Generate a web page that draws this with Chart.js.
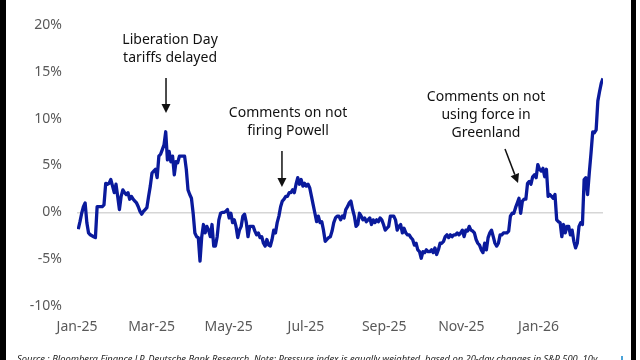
<!DOCTYPE html>
<html>
<head>
<meta charset="utf-8">
<script src="https://cdn.jsdelivr.net/npm/chart.js@4.4.1/dist/chart.umd.min.js"></script>
<style>
  html, body { margin: 0; padding: 0; background: #fff; }
  #wrap { position: relative; width: 640px; height: 360px; overflow: hidden; background: #fff; }
  canvas { position: absolute; left: 0; top: 0; }
  #lb { position: absolute; left: 0; top: 0; width: 6px; height: 360px; background: #000; }
  #rb { position: absolute; left: 631px; top: 0; width: 5px; height: 360px; background: #000; }
  #src { position: absolute; left: 17px; top: 352px; white-space: nowrap; font-family: "Noto Sans", sans-serif; font-style: italic; font-size: 10px; color: #222; }
  #mk { position: absolute; left: 621px; top: 356px; width: 2px; height: 6px; background: #4aa3d8; }
</style>
</head>
<body>
<div id="wrap">
  <canvas id="c" width="640" height="360"></canvas>
  <div id="lb"></div>
  <div id="rb"></div>
  <div id="src">Source : Bloomberg Finance LP, Deutsche Bank Research. Note: Pressure index is equally weighted, based on 20-day changes in S&amp;P 500, 10y</div>
  <div id="mk"></div>
</div>
<script>
// ---- data (percent), sampled evenly from 2 Jan 2025 to ~20 Feb 2026 ----
const startDay = 1;     // days since 1 Jan 2025
const endDay = 416;
const pressureIndex = [
  -1.8,-1.0,-0.1,0.6,1.0,-1.1,-2.2,-2.4,-2.5,-2.6,-2.7,0.6,0.6,0.6,0.6,0.8,3.1,3.0,3.1,3.5,
  2.8,2.1,3.0,1.7,0.3,1.7,2.4,2.1,1.9,2.1,1.4,1.7,1.4,1.2,1.0,0.6,0.1,-0.2,0.1,0.3,
  0.5,1.7,2.8,4.2,4.4,4.6,3.7,6.0,6.2,6.7,7.2,8.6,5.6,6.5,5.4,6.0,4.0,5.4,5.3,6.0,
  6.0,6.0,6.0,4.6,2.4,1.9,1.5,-0.1,-2.2,-2.6,-2.7,-5.2,-2.6,-1.3,
  -2.2,-1.5,-1.9,-2.6,-1.3,-3.6,-3.6,-2.6,-0.8,-0.1,0.0,0.0,0.1,0.3,-0.6,-0.1,-1.1,-0.8,-1.5,-2.7,
  -1.9,-1.5,-0.4,-0.2,-1.1,-2.6,-1.5,-1.5,-1.5,-2.0,-2.4,-2.2,-2.7,-2.6,-3.3,-3.6,-2.9,-3.5,-3.6,-2.9,
  -1.9,-2.2,-1.1,-0.4,0.6,1.2,1.4,1.7,1.7,2.1,2.1,2.4,2.1,3.0,3.7,3.0,3.5,2.8,3.1,2.8,
  3.0,2.6,1.7,0.8,-0.1,-1.0,-0.4,-1.1,-1.0,-1.9,-3.1,-2.9,-2.7,-2.6,-2.0,-1.1,-0.6,-0.4,-0.4,-0.8,
  -0.4,-0.6,0.3,0.6,1.0,1.2,0.3,-0.4,-1.5,-1.3,-0.1,-0.4,-0.8,-0.6,-1.0,-0.8,-0.6,-1.3,-0.8,-1.1,
  -0.8,-1.0,-0.6,-0.8,-1.3,-1.9,-1.7,-1.5,-0.4,-0.4,-0.4,-0.8,-1.9,-1.5,-1.3,-2.2,-1.7,-2.2,-2.4,-2.4,
  -2.7,-2.9,-3.5,-3.3,-4.0,-4.2,-4.9,-4.2,-4.3,-4.0,-4.2,-4.2,-4.0,-4.3,-3.8,-4.5,-4.0,-3.3,-3.3,-3.1,
  -2.6,-2.4,-2.7,-2.4,-2.6,-2.4,-2.4,-2.2,-2.4,-2.2,-1.9,-2.6,-1.9,-2.0,-1.5,-1.9,-2.0,-2.2,-2.9,-3.3,
  -3.5,-4.0,-4.3,-3.3,-4.0,-2.7,-2.2,-1.9,-2.6,-3.3,-3.6,-3.3,-2.4,-2.4,-2.2,-2.2,-2.2,-2.0,-0.4,-0.1,
  -0.1,0.5,1.0,1.5,-0.1,1.2,1.4,1.4,3.1,3.3,3.0,3.8,4.0,3.7,5.1,4.6,4.4,4.7,3.8,4.6,
  1.7,1.9,1.7,1.5,1.9,-0.8,-1.0,-1.1,-2.6,-1.3,-2.2,-1.5,-1.5,-2.4,-1.9,-3.1,-3.8,-3.3,-1.5,-1.1,
  -1.3,3.5,3.7,1.9,4.2,6.3,8.6,8.5,8.8,11.9,12.9,13.8,14.3
];
const tickDays = [0, 59, 120, 181, 243, 304, 365];
const tickLabels = ['Jan-25', 'Mar-25', 'May-25', 'Jul-25', 'Sep-25', 'Nov-25', 'Jan-26'];
const yTicks = [-10, -5, 0, 5, 10, 15, 20];

// annotations in data units (day, value)
const notes = [
  { lines: ['Liberation Day', 'tariffs delayed'], x: 73.6, y: [18.4, 16.5], arrow: [70.4, 14.35, 70.4, 10.6] },
  { lines: ['Comments on not', 'firing Powell'], x: 166.9, y: [10.6, 8.7], arrow: [162.1, 6.55, 162.1, 2.7] },
  { lines: ['Comments on not', 'using force in', 'Greenland'], x: 323.5, y: [12.3, 10.4, 8.5], arrow: [338.5, 6.76, 348.8, 3.13] }
];

const n = pressureIndex.length;
const points = pressureIndex.map((v, i) => ({ x: startDay + i * (endDay - startDay) / (n - 1), y: v }));

const notePlugin = {
  id: 'notes',
  afterDatasetsDraw(chart) {
    const { ctx, scales } = chart;
    const xs = scales.x, ys = scales.y;
    ctx.save();
    ctx.fillStyle = '#111';
    ctx.strokeStyle = '#111';
    ctx.font = '14px "Noto Sans", sans-serif';
    ctx.textAlign = 'center';
    ctx.textBaseline = 'middle';
    notes.forEach(nt => {
      const px = xs.getPixelForValue(nt.x);
      nt.lines.forEach((t, i) => ctx.fillText(t, px, ys.getPixelForValue(nt.y[i])));
      const x1 = xs.getPixelForValue(nt.arrow[0]), y1 = ys.getPixelForValue(nt.arrow[1]);
      const x2 = xs.getPixelForValue(nt.arrow[2]), y2 = ys.getPixelForValue(nt.arrow[3]);
      const ang = Math.atan2(y2 - y1, x2 - x1);
      const hl = 9, hw = 4.5;
      const bx = x2 - hl * Math.cos(ang), by = y2 - hl * Math.sin(ang);
      ctx.lineWidth = 1.5;
      ctx.beginPath(); ctx.moveTo(x1, y1); ctx.lineTo(bx, by); ctx.stroke();
      ctx.beginPath();
      ctx.moveTo(x2, y2);
      ctx.lineTo(bx + hw * Math.sin(ang), by - hw * Math.cos(ang));
      ctx.lineTo(bx - hw * Math.sin(ang), by + hw * Math.cos(ang));
      ctx.closePath(); ctx.fill();
    });
    ctx.restore();
  }
};

new Chart(document.getElementById('c'), {
  type: 'line',
  data: { datasets: [{ data: points, borderColor: '#0a1a9c', borderWidth: 3.3, pointRadius: 0, tension: 0, fill: false, borderJoinStyle: 'round' }] },
  options: {
    responsive: false,
    animation: false,
    devicePixelRatio: 1,
    layout: { padding: { top: 25, right: 37, left: 0, bottom: 0 } },
    plugins: { legend: { display: false }, tooltip: { enabled: false } },
    scales: {
      x: {
        type: 'linear', min: 0, max: endDay,
        afterBuildTicks: s => { s.ticks = tickDays.map(v => ({ value: v })); },
        afterFit: s => { s.height = 54; },
        ticks: {
          autoSkip: false, maxRotation: 0, padding: 13, color: '#595959',
          font: { family: '"Noto Sans", sans-serif', size: 14 },
          callback: v => tickLabels[tickDays.indexOf(v)]
        },
        grid: { display: false, drawTicks: false },
        border: { display: false }
      },
      y: {
        min: -10, max: 20,
        afterBuildTicks: s => { s.ticks = yTicks.map(v => ({ value: v })); },
        afterFit: s => { s.width = 77; },
        ticks: {
          padding: 15, color: '#595959',
          font: { family: '"Noto Sans", sans-serif', size: 14 },
          callback: v => v + '%'
        },
        grid: { drawTicks: false, lineWidth: 1.5, color: c => (c.tick && c.tick.value === 0) ? '#d6d6d6' : 'rgba(0,0,0,0)' },
        border: { display: false }
      }
    }
  },
  plugins: [notePlugin]
});

// fit the source line to its width in the reference
(function () {
  const el = document.getElementById('src');
  const target = 581;
  const w = el.getBoundingClientRect().width;
  if (w > 0) el.style.fontSize = (10 * target / w).toFixed(2) + 'px';
})();
</script>
</body>
</html>
